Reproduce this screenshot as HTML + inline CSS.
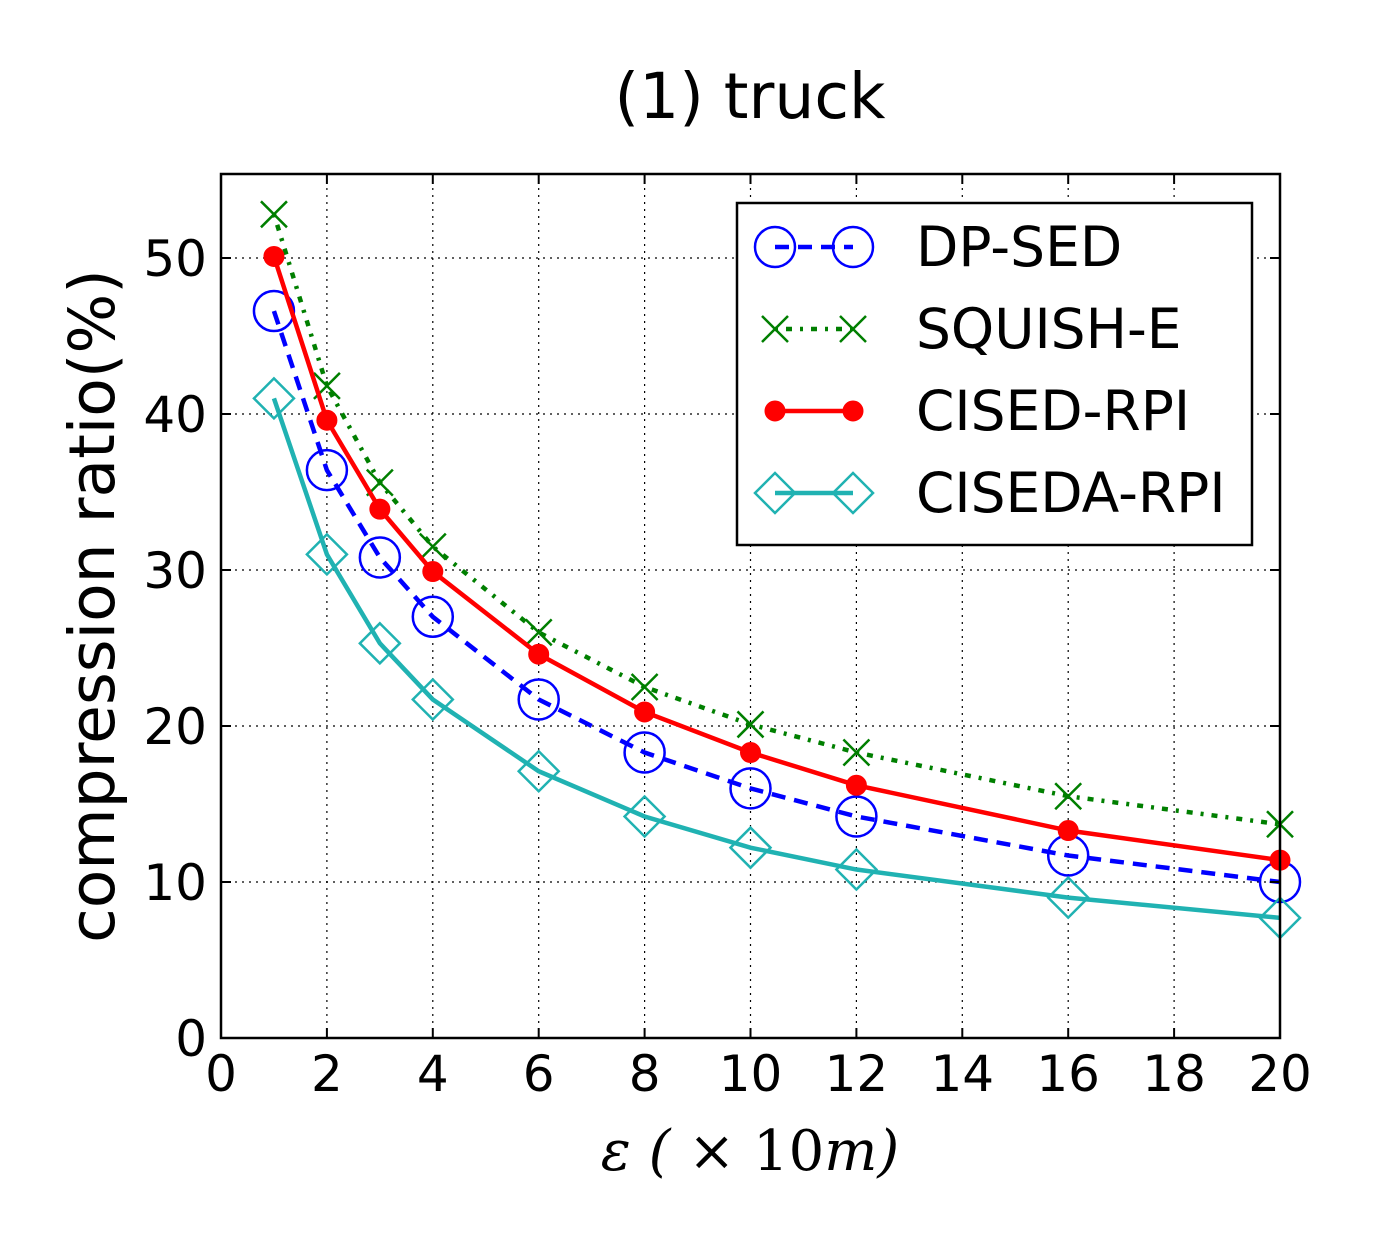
<!DOCTYPE html>
<html><head><meta charset="utf-8"><style>body{margin:0;background:#fff}svg{display:block}</style></head>
<body>
<svg id="chart" width="1375" height="1250" viewBox="0 0 1375 1250" xmlns="http://www.w3.org/2000/svg" font-family="'DejaVu Sans','Liberation Sans',sans-serif">
<rect width="1375" height="1250" fill="#fff"/>
<text x="750" y="118" font-size="63" text-anchor="middle">(1) truck</text>
<g id="grid"></g>
<g id="series"></g>
<rect x="221" y="174" width="1059" height="864" fill="none" stroke="#000" stroke-width="2.5"/>
<g id="ticks"></g>
<text transform="translate(114,606) rotate(-90)" font-size="63" text-anchor="middle">compression ratio(%)</text>
<text x="750" y="1170" font-size="56" text-anchor="middle" font-family="'DejaVu Serif','Liberation Serif',serif" font-style="italic">ε ( <tspan font-style="normal">× 10</tspan>m)</text>
<g>
<rect x="737" y="203" width="515" height="342" fill="#fff" stroke="#000" stroke-width="2.5"/>
<g id="legend-items"></g>
</g>
</svg>
<script>
const xs=[1,2,3,4,6,8,10,12,16,20];
const dpSed=[46.6,36.4,30.8,27.0,21.7,18.3,16.0,14.2,11.7,10.0];
const squishE=[52.8,41.8,35.6,31.5,26.0,22.5,20.1,18.3,15.5,13.7];
const cisedRpi=[50.1,39.6,33.9,29.9,24.6,20.9,18.3,16.2,13.3,11.4];
const cisedaRpi=[41.0,31.0,25.3,21.7,17.1,14.2,12.2,10.8,9.0,7.7];
const xTicks=[0,2,4,6,8,10,12,14,16,18,20];
const yTicks=[0,10,20,30,40,50];
const seriesNames=["DP-SED","SQUISH-E","CISED-RPI","CISEDA-RPI"];
const NS="http://www.w3.org/2000/svg";
const X=v=>221+v*1059/20, Y=v=>1038-v*15.6;
function mk(t,a,p){const e=document.createElementNS(NS,t);for(const k in a)e.setAttribute(k,a[k]);p.appendChild(e);return e;}
const grid=document.getElementById('grid'),ticks=document.getElementById('ticks'),ser=document.getElementById('series');
xTicks.forEach(t=>{const x=X(t);
 const g=mk('line',{x1:x,x2:x,y1:174,y2:1038,stroke:'#000','stroke-width':1.2,'stroke-dasharray':'2,5'},grid);
 
 mk('line',{x1:x,x2:x,y1:1038,y2:1028,stroke:'#000','stroke-width':2},ticks);
 mk('line',{x1:x,x2:x,y1:174,y2:184,stroke:'#000','stroke-width':2},ticks);
 const l=mk('text',{x:x,y:1091,'font-size':50,'text-anchor':'middle'},ticks);l.textContent=t;
 });
yTicks.forEach(t=>{const y=Y(t);
 const g=mk('line',{x1:221,x2:1280,y1:y,y2:y,stroke:'#000','stroke-width':1.2,'stroke-dasharray':'2,5'},grid);
 
 mk('line',{x1:221,x2:231,y1:y,y2:y,stroke:'#000','stroke-width':2},ticks);
 mk('line',{x1:1270,x2:1280,y1:y,y2:y,stroke:'#000','stroke-width':2},ticks);
 const l=mk('text',{x:207,y:y+18,'font-size':50,'text-anchor':'end'},ticks);l.textContent=t;
 });
const styles=[
 {c:'#0000ff',dash:'14,9',m:'o'},
 {c:'#007f00',dash:'3,8,6,8',m:'x'},
 {c:'#ff0000',dash:'',m:'.'},
 {c:'#20b2b2',dash:'',m:'d'}];
function marker(m,x,y,c,p){
 if(m==='o')return mk('circle',{cx:x,cy:y,r:20,fill:'none',stroke:c,'stroke-width':2.5},p);
 if(m==='.')return mk('circle',{cx:x,cy:y,r:10,fill:c,stroke:c},p);
 if(m==='d')return mk('path',{d:`M${x} ${y-20}L${x+20} ${y}L${x} ${y+20}L${x-20} ${y}Z`,fill:'none',stroke:c,'stroke-width':2.5},p);
 return mk('path',{d:`M${x-13} ${y-13}L${x+13} ${y+13}M${x-13} ${y+13}L${x+13} ${y-13}`,stroke:c,'stroke-width':2.5},p);
}
[dpSed,squishE,cisedRpi,cisedaRpi].forEach((vals,i)=>{const s=styles[i];
 const g=mk('g',{},ser);
 
 
 const pts=xs.map((x,j)=>X(x)+','+Y(vals[j])).join(' ');
 mk('polyline',{points:pts,fill:'none',stroke:s.c,'stroke-width':4.5,'stroke-dasharray':s.dash},g);
 xs.forEach((x,j)=>{const mm=marker(s.m,X(x),Y(vals[j]),s.c,g);
  
  });
 const lg=document.getElementById('legend-items');const ly=247+i*82;
 const le=mk('g',{},lg);
 
 
 mk('line',{x1:775,x2:853,y1:ly,y2:ly,stroke:s.c,'stroke-width':4.5,'stroke-dasharray':s.dash},le);
 marker(s.m,775,ly,s.c,le);marker(s.m,853,ly,s.c,le);
 const t=mk('text',{x:916,y:ly+19,'font-size':55},le);t.textContent=seriesNames[i];
});
</script>
</body></html>
